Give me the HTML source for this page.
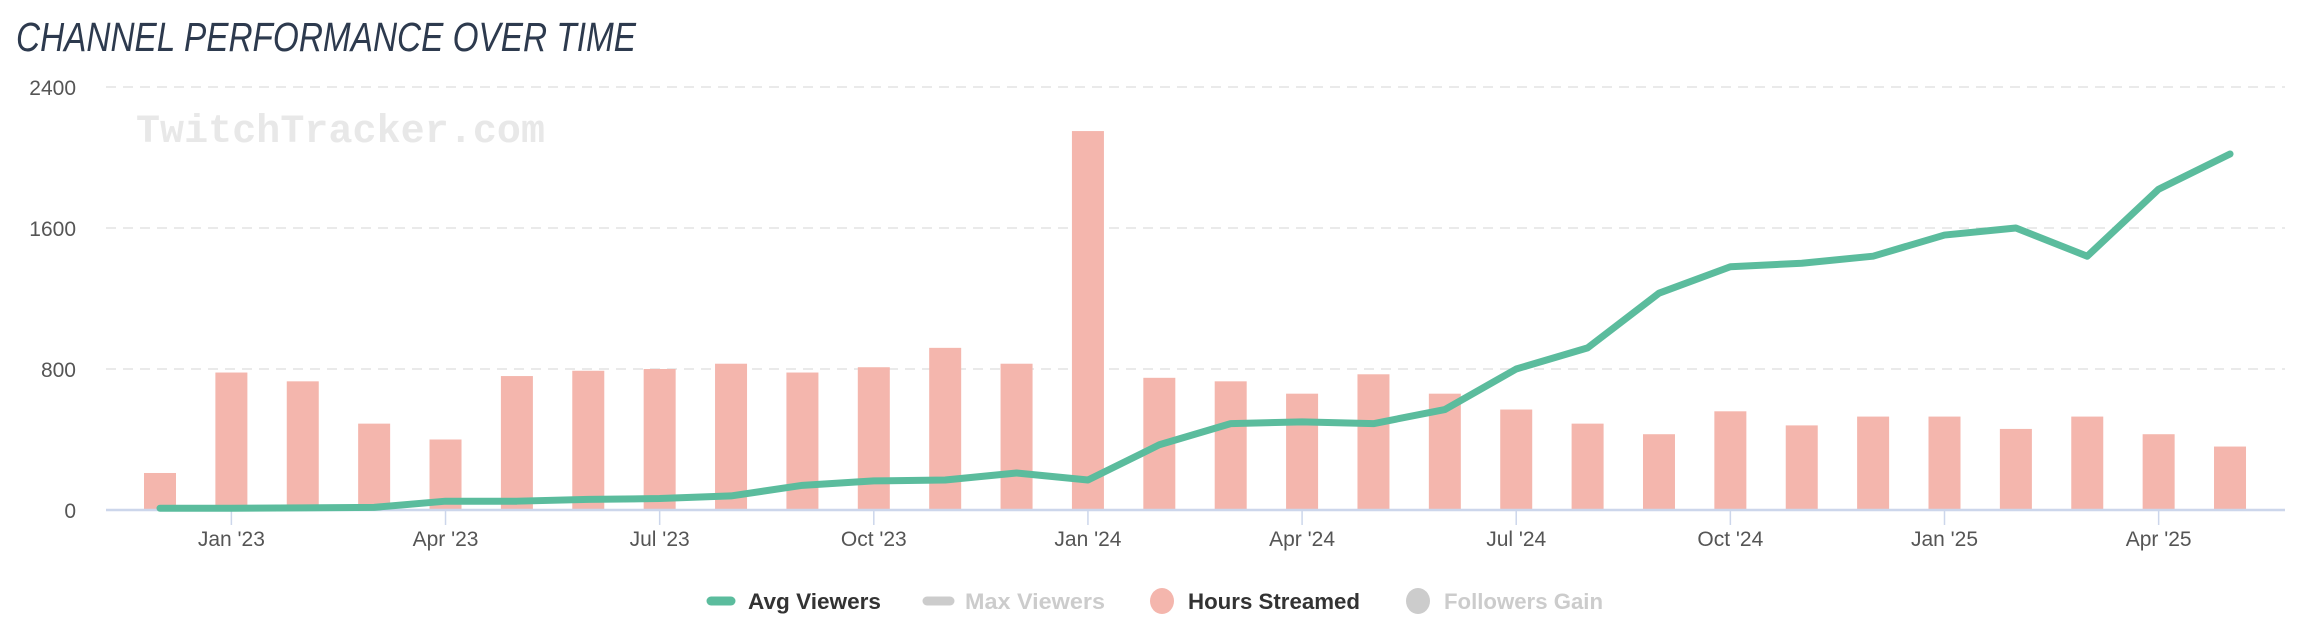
<!DOCTYPE html>
<html><head><meta charset="utf-8"><style>
html,body{margin:0;padding:0;background:#fff;}
svg{display:block;}
</style></head><body>
<svg width="2304" height="638" xmlns="http://www.w3.org/2000/svg" font-family="Liberation Sans, sans-serif">
<text x="16" y="51" font-size="41" font-style="italic" fill="#2d3a4e" textLength="620" lengthAdjust="spacingAndGlyphs">CHANNEL PERFORMANCE OVER TIME</text>
<g stroke="#e3e3e3" stroke-width="1.5" stroke-dasharray="10,7">
<line x1="106" y1="87" x2="2285" y2="87"/>
<line x1="106" y1="228" x2="2285" y2="228"/>
<line x1="106" y1="369" x2="2285" y2="369"/>
</g>
<g font-size="21" fill="#555" text-anchor="end">
<text x="76" y="95">2400</text>
<text x="76" y="236">1600</text>
<text x="76" y="377">800</text>
<text x="76" y="518">0</text>
</g>
<text x="136" y="142" font-family="Liberation Mono, monospace" font-weight="bold" font-size="40" fill="#e8e8e8" textLength="409">TwitchTracker.com</text>
<g id="bars" fill="#f4b6ad"></g>
<line x1="106" y1="510" x2="2285" y2="510" stroke="#ccd6eb" stroke-width="2.5"/>
<g id="ticks" stroke="#ccd6eb" stroke-width="1.5"></g>
<g id="labels" font-size="21" fill="#555" text-anchor="middle"></g>
<polyline id="line" fill="none" stroke="#5bbc9d" stroke-width="7" stroke-linejoin="round" stroke-linecap="round"/>
<g font-size="22" font-weight="bold">
<line x1="711" y1="601" x2="731" y2="601" stroke="#5bbc9d" stroke-width="9" stroke-linecap="round"/>
<text x="748" y="609" fill="#333" textLength="133" lengthAdjust="spacingAndGlyphs">Avg Viewers</text>
<line x1="927" y1="601" x2="950" y2="601" stroke="#ccc" stroke-width="9" stroke-linecap="round"/>
<text x="965" y="609" fill="#ccc" textLength="140" lengthAdjust="spacingAndGlyphs">Max Viewers</text>
<ellipse cx="1162" cy="601" rx="12" ry="13" fill="#f4b6ad"/>
<text x="1188" y="609" fill="#333" textLength="172" lengthAdjust="spacingAndGlyphs">Hours Streamed</text>
<ellipse cx="1418" cy="601" rx="12" ry="13" fill="#ccc"/>
<text x="1444" y="609" fill="#ccc" textLength="159" lengthAdjust="spacingAndGlyphs">Followers Gain</text>
</g>
<script>
var ns="http://www.w3.org/2000/svg";
var hours=[210,780,730,490,400,760,790,800,830,780,810,920,830,2150,750,730,660,770,660,570,490,430,560,480,530,530,460,530,430,360];
var avg=[10,10,12,15,50,50,60,65,80,140,165,170,210,170,370,490,500,490,570,800,920,1230,1380,1400,1440,1560,1600,1440,1820,2020];
function X(i){return 160+i*71.38;}
function Y(v){return 510-v*423/2400;}
var b=document.getElementById('bars');
hours.forEach(function(h,i){var r=document.createElementNS(ns,'rect');r.setAttribute('x',X(i)-16);r.setAttribute('y',Y(h));r.setAttribute('width',32);r.setAttribute('height',510-Y(h));b.appendChild(r);});
document.getElementById('line').setAttribute('points',avg.map(function(v,i){return X(i)+','+Y(v);}).join(' '));
var labs=["Jan '23","Apr '23","Jul '23","Oct '23","Jan '24","Apr '24","Jul '24","Oct '24","Jan '25","Apr '25"];
var t=document.getElementById('ticks'),l=document.getElementById('labels');
labs.forEach(function(s,k){var i=1+3*k;var ln=document.createElementNS(ns,'line');ln.setAttribute('x1',X(i));ln.setAttribute('x2',X(i));ln.setAttribute('y1',511);ln.setAttribute('y2',525);t.appendChild(ln);
var tx=document.createElementNS(ns,'text');tx.setAttribute('x',X(i));tx.setAttribute('y',546);tx.textContent=s;l.appendChild(tx);});
</script>
</svg>
</body></html>
